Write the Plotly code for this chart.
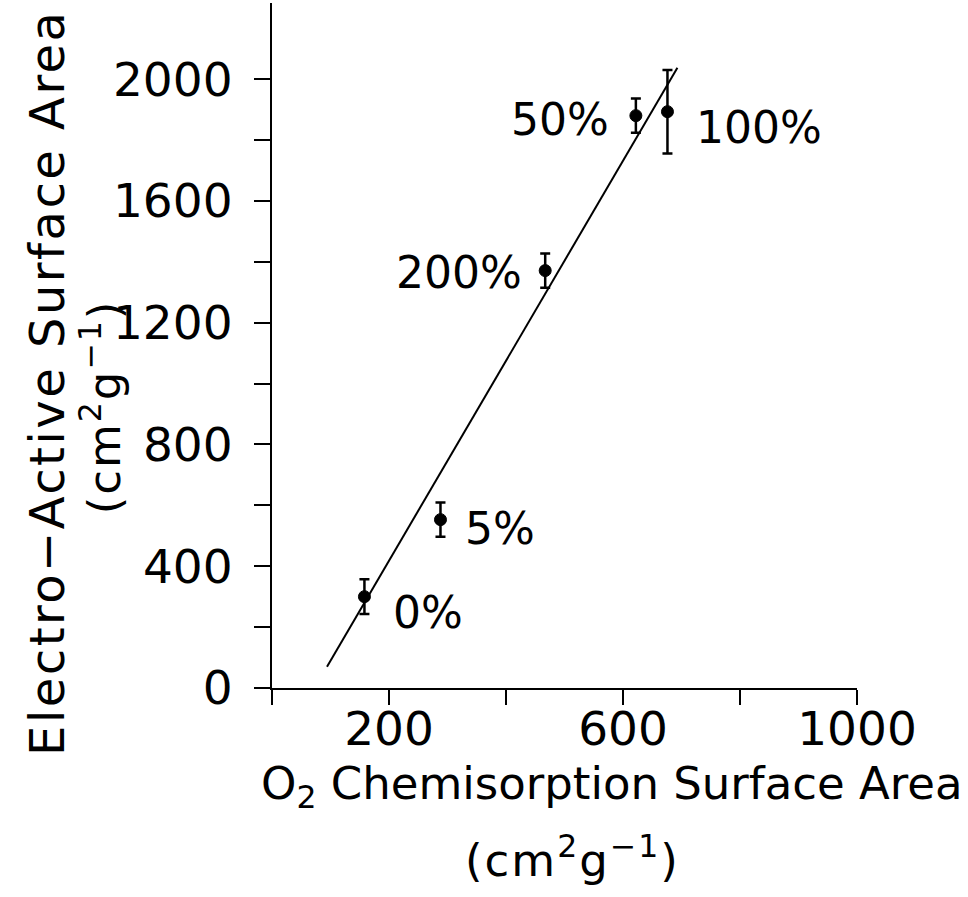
import plotly.graph_objects as go

# ---- data ----
labels = ["0%", "5%", "200%", "50%", "100%"]
o2_area = [158, 288, 467, 622, 676]          # O2 chemisorption surface area (cm2/g)
ea_area = [300, 553, 1371, 1880, 1893]       # electro-active surface area (cm2/g)
ea_err = [57, 56, 56, 56, 137]               # error bar half-widths
fit_x = [94, 693]
fit_y = [70, 2037]

x_tickvals = [200, 600, 1000]
x_ticktext = ["200", "600", "1000"]
x_minor_vals = [0, 200, 400, 600, 800, 1000]
y_tickvals = [0, 400, 800, 1200, 1600, 2000]
y_ticktext = ["0", "400", "800", "1200", "1600", "2000"]
y_minor_vals = [0, 200, 400, 600, 800, 1000, 1200, 1400, 1600, 1800, 2000]

# label placement (pixel offsets from each point)
lab_anchor = ["left", "left", "right", "right", "left"]
lab_dx = [27, 23, -21, -25, 27]
lab_dy = [-16, -9, -2, -4, -16]

FONT = "DejaVu Sans"

fig = go.Figure()
fig.add_trace(go.Scatter(
    x=fit_x, y=fit_y, mode="lines",
    line=dict(color="black", width=2), showlegend=False, hoverinfo="skip"))
fig.add_trace(go.Scatter(
    x=o2_area, y=ea_area, mode="markers",
    marker=dict(color="black", size=12, line=dict(color="black", width=1)),
    error_y=dict(type="data", array=ea_err, visible=True,
                 color="black", thickness=2.5, width=5),
    showlegend=False))

for lab, xv, yv, anc, dx, dy in zip(labels, o2_area, ea_area, lab_anchor, lab_dx, lab_dy):
    fig.add_annotation(x=xv, y=yv, text=lab, showarrow=False,
                       xanchor=anc, yanchor="middle", xshift=dx, yshift=dy,
                       font=dict(family=FONT, size=44, color="black"))

# axis titles
fig.add_annotation(xref="paper", yref="paper", x=0.581, y=-0.143,
                   text="O<sub>2</sub> Chemisorption Surface Area", showarrow=False,
                   xanchor="center", yanchor="middle",
                   font=dict(family=FONT, size=45, color="black"))
fig.add_annotation(xref="paper", yref="paper", x=0.5145, y=-0.248,
                   text="<span style='letter-spacing:2px'>(cm<sup>2</sup>g<sup>\u22121</sup>)</span>",
                   showarrow=False, xanchor="center", yanchor="middle",
                   font=dict(family=FONT, size=45, color="black"))
fig.add_annotation(xref="paper", yref="paper", x=-0.385, y=0.445,
                   text="<span style='letter-spacing:2.5px'>Electro\u2212Active Surface Area</span>",
                   showarrow=False, textangle=-90, xanchor="center", yanchor="middle",
                   font=dict(family=FONT, size=48, color="black"))
fig.add_annotation(xref="paper", yref="paper", x=-0.292, y=0.41,
                   text="<span style='letter-spacing:2px'>(cm<sup>2</sup>g<sup>\u22121</sup>)</span>",
                   showarrow=False, textangle=-90, xanchor="center", yanchor="middle",
                   font=dict(family=FONT, size=45, color="black"))

fig.update_xaxes(range=[0, 1000], tickmode="array", tickvals=x_tickvals, ticktext=x_ticktext,
                 ticks="outside", ticklen=15, tickwidth=2, tickcolor="black",
                 minor=dict(tickmode="array", tickvals=x_minor_vals, ticks="outside",
                            ticklen=15, tickwidth=2, tickcolor="black", showgrid=False),
                 showline=True, linecolor="black", linewidth=2,
                 showgrid=False, zeroline=False, ticklabelstandoff=-16,
                 tickfont=dict(family=FONT, size=47, color="black"))
fig.update_yaxes(range=[0, 2250], tickmode="array", tickvals=y_tickvals, ticktext=y_ticktext,
                 ticks="outside", ticklen=16, tickwidth=2, tickcolor="black",
                 minor=dict(tickmode="array", tickvals=y_minor_vals, ticks="outside",
                            ticklen=16, tickwidth=2, tickcolor="black", showgrid=False),
                 showline=True, linecolor="black", linewidth=2,
                 showgrid=False, zeroline=False, ticklabelstandoff=12,
                 tickfont=dict(family=FONT, size=47, color="black"))

fig.update_layout(width=968, height=897,
                  margin=dict(l=272, r=111, t=3, b=209),
                  paper_bgcolor="white", plot_bgcolor="white",
                  font=dict(family=FONT, color="black"))

fig.write_html("out.html")
